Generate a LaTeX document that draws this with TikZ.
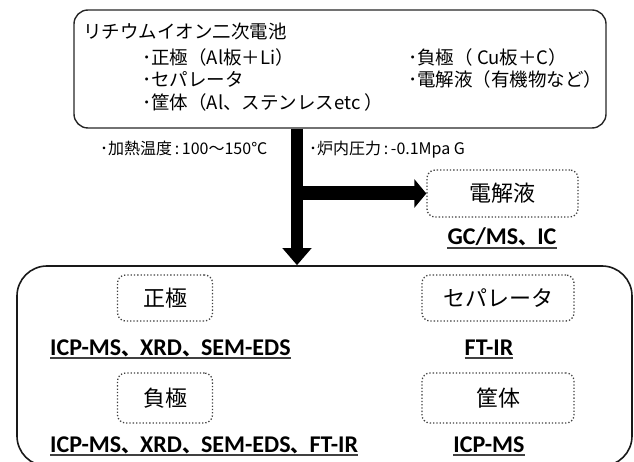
\documentclass[tikz,border=0pt]{standalone}
\usepackage{fontspec}
\setmainfont{Noto Sans CJK JP}
\newfontfamily\jpf{Noto Sans CJK JP}
\newfontfamily\carl{Carlito}
\usetikzlibrary{arrows.meta}
\newcommand\jcm{{\jpf\bfseries\fontsize{19}{21}\selectfont 、}}
\begin{document}
\begin{tikzpicture}[x=1pt,y=-1pt,
  topbox/.style={draw=black!85, line width=1.4pt, rounded corners=14pt, minimum width=532pt, minimum height=118pt, inner sep=0pt},
  bigbox/.style={draw=black!90, line width=1.6pt, rounded corners=30pt, minimum width=615pt, minimum height=200pt, inner sep=0pt},
  dbox/.style={draw=black!75, dotted, line width=1.3pt, rounded corners=8pt, inner sep=0pt, font=\jpf\fontsize{22}{24}\selectfont},
  ttext/.style={anchor=base west, inner sep=0pt, font=\jpf\fontsize{18.5}{20}\selectfont},
  ltext/.style={anchor=base west, inner sep=0pt, font=\jpf\fontsize{16}{18}\selectfont},
  blab/.style={inner sep=0pt, font=\carl\bfseries\fontsize{24}{26}\selectfont},
  ul/.style={draw=black!75, line width=1.6pt},
  shaft/.style={line width=12pt, -{Triangle[width=28pt,length=17pt]}},
  branch/.style={line width=14pt, -{Triangle[width=28pt,length=12pt]}}
]
\useasboundingbox (0,0) rectangle (634,462);
% top box
\node[topbox] (top) at (340,69) {};
\node[ttext] (t1) at (83,39) {リチウムイオン二次電池};
\node[ttext] (t2) at (142,65) {･正極（Al板＋Li）};
\node[ttext] (t3) at (408,65) {･負極（ Cu板＋C）};
\node[ttext] (t4) at (142,87) {･セパレータ};
\node[ttext] (t5) at (408,87) {･電解液（有機物など）};
\node[ttext] (t6) at (142,110) {･筐体（Al、ステンレスetc ）};
% conditions
\node[ltext] (c1) at (100,155) {･加熱温度\,:\,100～150℃};
\node[ltext] (c2) at (309,155) {･炉内圧力\,:\,-0.1Mpa G};
% electrolyte
\node[dbox, minimum width=151pt, minimum height=47pt] (elec) at (502.5,193.5) {電解液};
\node[blab, anchor=base] (g1) at (502,245) {GC/MS\jcm IC};
% bottom box
\node[bigbox] (bottom) at (324.5,366) {};
\node[dbox, minimum width=95pt, minimum height=46pt] (pos) at (165,298) {正極};
\node[dbox, minimum width=152pt, minimum height=46pt] (sep) at (498,298) {セパレータ};
\node[dbox, minimum width=95pt, minimum height=50pt] (neg) at (165,398) {負極};
\node[dbox, minimum width=152pt, minimum height=50pt] (case) at (498,398) {筐体};
\node[blab, anchor=base west] (m1) at (50,355) {ICP-MS\jcm XRD\jcm SEM-EDS};
\node[blab, anchor=base] (m2) at (489,355) {FT-IR};
\node[blab, anchor=base west] (m3) at (50,452) {ICP-MS\jcm XRD\jcm SEM-EDS\jcm FT-IR};
\node[blab, anchor=base] (m4) at (489,452) {ICP-MS};
% underlines
\foreach \n in {g1,m1,m2,m3,m4}{
  \draw[ul] ([yshift=-3pt]\n.base west) -- ([yshift=-3pt]\n.base east);
}
% arrows
\coordinate (j) at (297,192);
\draw[shaft] (top.south -| j) -- (bottom.north -| j);
\draw[branch] (elec.west -| j) -- (elec.west);
\end{tikzpicture}
\end{document}
